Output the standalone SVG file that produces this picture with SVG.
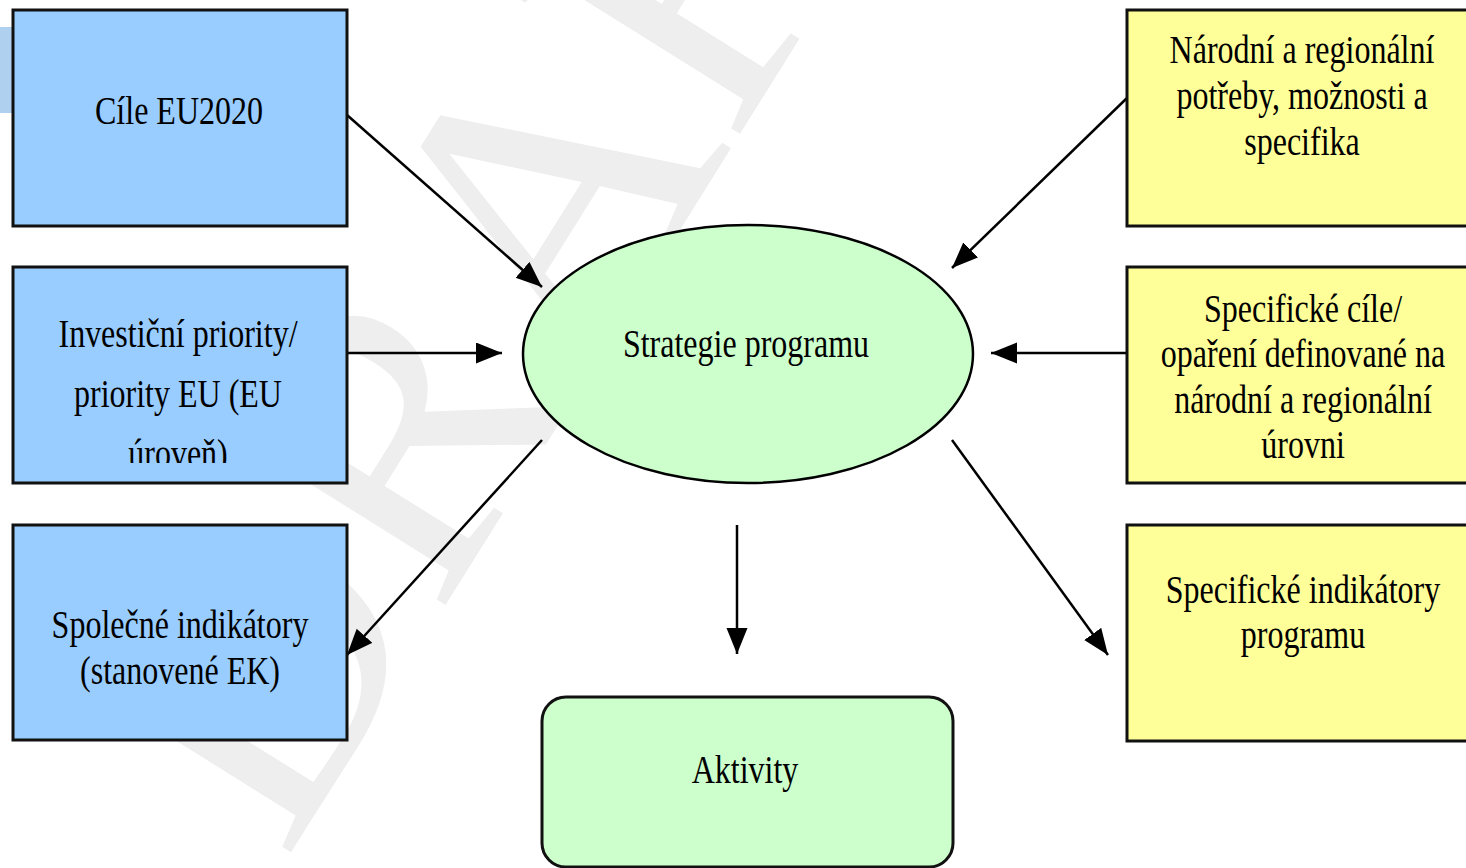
<svg xmlns="http://www.w3.org/2000/svg" width="1466" height="868" viewBox="0 0 1466 868">
  <style>
    .box { stroke: #111; stroke-width: 3; }
    .blue { fill: #99ccff; }
    .yellow { fill: #ffff99; }
    .green { fill: #ccffcc; }
    .lbl { font-family: "Liberation Serif", "Times New Roman", serif; font-size: 40px; fill: #000; text-anchor: middle; }
    .conn { stroke: #000; stroke-width: 2.5; fill: none; marker-end: url(#arrow); }
    .wm { font-family: "Liberation Serif", "Times New Roman", serif; font-size: 400px; fill: #eeeeee; }
  </style>
  <defs>
    <marker id="arrow" markerUnits="userSpaceOnUse" markerWidth="27" markerHeight="22" refX="26" refY="10.5" orient="auto">
      <path d="M0,0 L26,10.5 L0,21 z" fill="#000"/>
    </marker>
    <clipPath id="clipBox2">
      <rect x="13" y="267" width="334" height="196"/>
    </clipPath>
  </defs>
  <rect width="1466" height="868" fill="#ffffff"/>
  <rect x="0" y="27" width="14" height="86" fill="#b0d0f0"/>
  <g id="watermark">
    <text class="wm" transform="translate(285,862) rotate(-58)">DRAFT</text>
  </g>

  <g id="connectors">
    <line class="conn" x1="347" y1="115" x2="542" y2="287"/>
    <line class="conn" x1="347" y1="353" x2="502" y2="353"/>
    <line class="conn" x1="542" y1="440" x2="347" y2="655"/>
    <line class="conn" x1="1127" y1="98" x2="952" y2="268"/>
    <line class="conn" x1="1127" y1="353" x2="991" y2="353"/>
    <line class="conn" x1="952" y1="440" x2="1108" y2="655"/>
    <line class="conn" x1="737" y1="525" x2="737" y2="654"/>
  </g>

  <g id="cile">
    <rect class="box blue" x="13" y="10" width="334" height="216"/>
    <text class="lbl" transform="translate(179,124) scale(0.8,1)">Cíle EU2020</text>
  </g>
  <g id="investicni">
    <rect class="box blue" x="13" y="267" width="334" height="216"/>
    <g clip-path="url(#clipBox2)">
      <text class="lbl" transform="translate(178,347) scale(0.8,1)"><tspan x="0" y="0">Investiční priority/</tspan><tspan x="0" y="60">priority EU (EU</tspan><tspan x="0" y="120">úroveň)</tspan></text>
    </g>
  </g>
  <g id="spolecne">
    <rect class="box blue" x="13" y="525" width="334" height="215"/>
    <text class="lbl" transform="translate(180,638) scale(0.8,1)"><tspan x="0" y="0">Společné indikátory</tspan><tspan x="0" y="46">(stanovené EK)</tspan></text>
  </g>

  <g id="strategie">
    <ellipse class="green" cx="748" cy="354" rx="225" ry="129" stroke="#000" stroke-width="2.5"/>
    <text class="lbl" transform="translate(746,357) scale(0.8,1)">Strategie programu</text>
  </g>
  <g id="aktivity">
    <rect class="box green" x="542" y="697" width="411" height="170" rx="24" ry="24" stroke-width="2.5"/>
    <text class="lbl" transform="translate(745,783) scale(0.8,1)">Aktivity</text>
  </g>

  <g id="narodni">
    <rect class="box yellow" x="1127" y="10" width="345" height="216"/>
    <text class="lbl" transform="translate(1302,63) scale(0.8,1)"><tspan x="0" y="0">Národní a regionální</tspan><tspan x="0" y="46">potřeby, možnosti a</tspan><tspan x="0" y="92">specifika</tspan></text>
  </g>
  <g id="specificke-cile">
    <rect class="box yellow" x="1127" y="267" width="345" height="216"/>
    <text class="lbl" transform="translate(1303,322) scale(0.8,1)"><tspan x="0" y="0">Specifické cíle/</tspan><tspan x="0" y="45.5">opaření definované na</tspan><tspan x="0" y="91">národní a regionální</tspan><tspan x="0" y="136.5">úrovni</tspan></text>
  </g>
  <g id="specificke-indikatory">
    <rect class="box yellow" x="1127" y="525" width="345" height="216"/>
    <text class="lbl" transform="translate(1303,603) scale(0.8,1)"><tspan x="0" y="0">Specifické indikátory</tspan><tspan x="0" y="45">programu</tspan></text>
  </g>
</svg>
